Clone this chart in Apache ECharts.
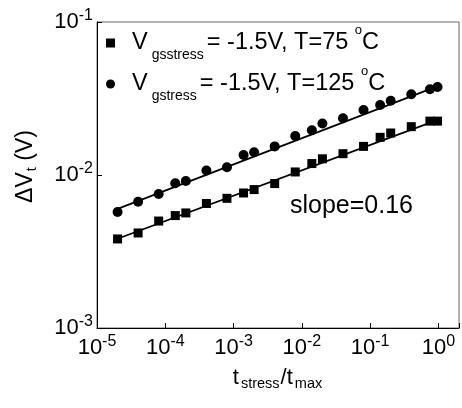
<!DOCTYPE html>
<html><head><meta charset="utf-8">
<script src="https://cdn.jsdelivr.net/npm/echarts@6/dist/echarts.min.js"></script>
<style>html,body{margin:0;padding:0;background:#fff}#c{width:462px;height:408px}</style>
</head><body><div id="c"></div>
<script>
// ---- data ----
const tStressRatio = [2e-5, 4e-5, 8e-5, 1.4e-4, 2e-4, 4e-4, 8e-4, 1.4e-3, 2e-3, 4e-3, 8e-3, 1.4e-2, 2e-2, 4e-2, 8e-2, 0.14, 0.2, 0.4, 0.75, 0.97];
const dVt_75C = [3.82e-3, 4.18e-3, 5.0e-3, 5.43e-3, 5.65e-3, 6.51e-3, 7.04e-3, 7.63e-3, 8.03e-3, 8.79e-3, 1.047e-2, 1.188e-2, 1.276e-2, 1.378e-2, 1.538e-2, 1.763e-2, 1.882e-2, 2.07e-2, 2.25e-2, 2.25e-2];
const dVt_125C = [5.73e-3, 6.69e-3, 7.51e-3, 8.83e-3, 9.14e-3, 1.07e-2, 1.125e-2, 1.352e-2, 1.41e-2, 1.538e-2, 1.80e-2, 1.96e-2, 2.17e-2, 2.35e-2, 2.66e-2, 2.87e-2, 3.06e-2, 3.37e-2, 3.63e-2, 3.76e-2];
const fitX = [2e-5, 1.0];
const fit_75C = [3.83e-3, 2.3e-2];
const fit_125C = [6.0e-3, 3.82e-2];
const seriesNames = ['Vgsstress= -1.5V, T=75 °C', 'Vgstress= -1.5V, T=125 °C'];
const legendLabels = {
  'Vgsstress= -1.5V, T=75 °C': '{v|V}{sub|gsstress}{n|= -1.5V, T=75 }{sup|o}{n|C}',
  'Vgstress= -1.5V, T=125 °C': '{v|V}{sub|gstress}{n|= -1.5V, T=125 }{sup|o}{n|C}'
};
const xAxisTitle = '{n|t}{sub|stress}{n|/t}{sub|max}';
const yAxisTitle = '{n|ΔV}{sub|t}{n| (V)}';
const slopeText = 'slope=0.16';

const FONT = '"Liberation Sans", Arial, Helvetica, sans-serif';
function pow10Label(v) {
  const e = Math.log10(v), r = Math.round(e);
  if (Math.abs(e - r) > 1e-6) return '';
  return '{b|10}{s|' + r + '}';
}
const labelRich = {
  b: { fontSize: 22, lineHeight: 28, fontFamily: FONT, color: '#000' },
  s: { fontSize: 16, lineHeight: 16, fontFamily: FONT, color: '#000', verticalAlign: 'top' }
};

const chart = echarts.init(document.getElementById('c'), null, { renderer: 'canvas' });
chart.setOption({
  animation: false,
  backgroundColor: '#fff',
  grid: { left: 97, top: 22, right: -5, bottom: 80, show: true, borderColor: '#666', borderWidth: 1, backgroundColor: 'transparent' },
  legend: {
    data: [{ name: seriesNames[0], icon: 'rect' }, { name: seriesNames[1], icon: 'circle' }],
    orient: 'vertical', left: 106, top: 24, padding: 0, itemGap: 3,
    itemWidth: 9, itemHeight: 9, selectedMode: false,
    formatter: n => legendLabels[n],
    textStyle: {
      color: '#000', fontFamily: FONT,
      rich: {
        v: { fontSize: 23.5, lineHeight: 26, fontFamily: FONT, color: '#000', padding: [0, 0, 0, 12] },
        n: { fontSize: 23.5, lineHeight: 26, fontFamily: FONT, color: '#000' },
        sub: { fontSize: 14, lineHeight: 38, fontFamily: FONT, color: '#000', verticalAlign: 'bottom', padding: [0, 3, 0, 4] },
        sup: { fontSize: 13, lineHeight: 13, fontFamily: FONT, color: '#000', verticalAlign: 'top' }
      }
    }
  },
  xAxis: {
    type: 'log', logBase: 10, min: 1e-5, max: 2,
    name: xAxisTitle, nameLocation: 'middle', nameGap: 37,
    nameTextStyle: {
      color: '#000', fontFamily: FONT,
      rich: {
        n: { fontSize: 22, lineHeight: 26, fontFamily: FONT, color: '#000' },
        sub: { fontSize: 14.5, lineHeight: 14.5, fontFamily: FONT, color: '#000', verticalAlign: 'bottom', padding: [0, 1, 0, 2] }
      }
    },
    axisLine: { lineStyle: { color: '#000', width: 1 } },
    axisTick: { inside: true, length: 5, lineStyle: { color: '#000' } },
    minorTick: { show: false },
    splitLine: { show: false },
    axisLabel: { margin: 6, formatter: pow10Label, rich: labelRich, showMinLabel: true, showMaxLabel: true, hideOverlap: false }
  },
  yAxis: {
    type: 'log', logBase: 10, min: 1e-3, max: 1e-1,
    name: yAxisTitle, nameLocation: 'middle', nameGap: 57.5,
    nameTextStyle: {
      color: '#000', fontFamily: FONT, padding: [0, 0, 0, 17],
      rich: {
        n: { fontSize: 23, lineHeight: 26, fontFamily: FONT, color: '#000' },
        sub: { fontSize: 14.5, lineHeight: 28, fontFamily: FONT, color: '#000', verticalAlign: 'bottom', padding: [0, 0, 0, 1] }
      }
    },
    axisLine: { lineStyle: { color: '#000', width: 1 } },
    axisTick: { inside: true, length: 5, lineStyle: { color: '#000' } },
    splitLine: { show: false },
    axisLabel: { margin: 4, formatter: pow10Label, rich: labelRich, showMinLabel: true, showMaxLabel: true, hideOverlap: false }
  },
  graphic: [{
    type: 'text', left: 290, top: 194,
    style: { text: slopeText, font: '25px ' + FONT, fill: '#000' }
  }],
  series: [
    { name: 'fit 75', type: 'line', data: fitX.map((x, i) => [x, fit_75C[i]]), symbol: 'none', lineStyle: { color: '#000', width: 1.8 }, z: 1, silent: true },
    { name: 'fit 125', type: 'line', data: fitX.map((x, i) => [x, fit_125C[i]]), symbol: 'none', lineStyle: { color: '#000', width: 1.8 }, z: 1, silent: true },
    { name: seriesNames[0], type: 'scatter', symbol: 'rect', symbolSize: 9, itemStyle: { color: '#000', opacity: 1 }, data: tStressRatio.map((x, i) => [x, dVt_75C[i]]), z: 3 },
    { name: seriesNames[1], type: 'scatter', symbol: 'circle', symbolSize: 10, itemStyle: { color: '#000', opacity: 1 }, data: tStressRatio.map((x, i) => [x, dVt_125C[i]]), z: 3 }
  ]
});
</script></body></html>
